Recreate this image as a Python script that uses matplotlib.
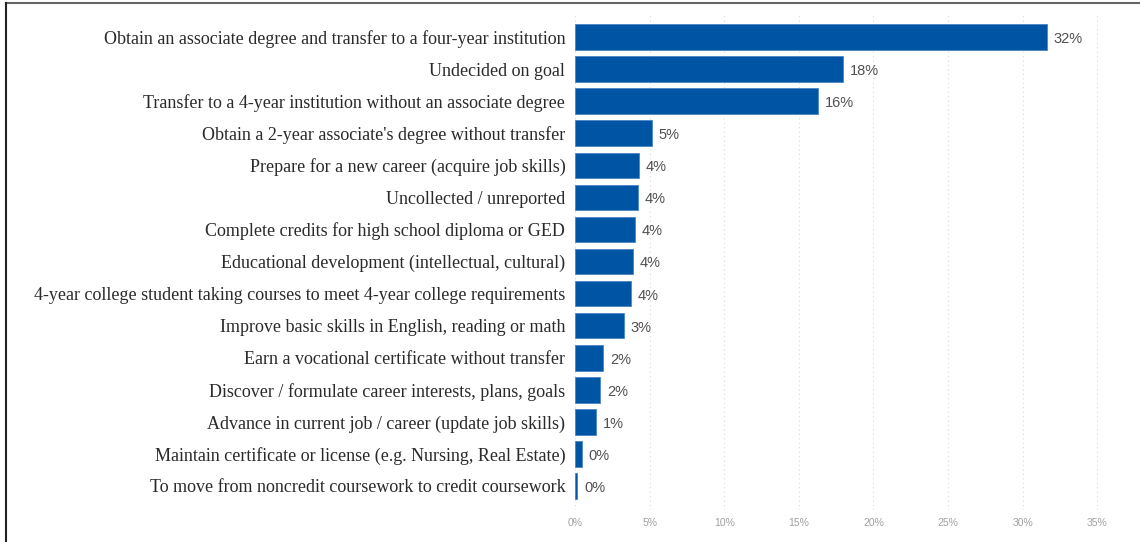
import matplotlib.pyplot as plt
from matplotlib.lines import Line2D
from matplotlib.ticker import FuncFormatter

# Student goals, share of respondents (%)
goals = [
    "Obtain an associate degree and transfer to a four-year institution",
    "Undecided on goal",
    "Transfer to a 4-year institution without an associate degree",
    "Obtain a 2-year associate's degree without transfer",
    "Prepare for a new career (acquire job skills)",
    "Uncollected / unreported",
    "Complete credits for high school diploma or GED",
    "Educational development (intellectual, cultural)",
    "4-year college student taking courses to meet 4-year college requirements",
    "Improve basic skills in English, reading or math",
    "Earn a vocational certificate without transfer",
    "Discover / formulate career interests, plans, goals",
    "Advance in current job / career (update job skills)",
    "Maintain certificate or license (e.g. Nursing, Real Estate)",
    "To move from noncredit coursework to credit coursework",
]
shares = [31.6, 17.97, 16.3, 5.13, 4.29, 4.22, 4.04, 3.9, 3.74, 3.27,
          1.88, 1.68, 1.41, 0.47, 0.15]

bar_color = "#0054a4"

fig = plt.figure(figsize=(11.4, 5.42), dpi=100)
ax = fig.add_axes([0.5044, 0.059, 0.4712, 0.9152])

pos = list(range(len(goals)))
ax.barh(pos, shares, height=0.8, color=bar_color, edgecolor="#4a86c8", linewidth=0.6, zorder=3)

for y, v in zip(pos, shares):
    ax.text(v + 0.45, y + 0.06, f"{v:.0f}%", va="center", ha="left",
            family="Liberation Sans", fontsize=10.5, color="#505050")

ax.set_yticks(pos)
ax.set_yticklabels(goals, family="Liberation Serif", fontsize=13, color="#2a2a2a")
ax.set_ylim(14.75, -0.72)
ax.set_xlim(0, 36)

ax.set_xticks(range(0, 36, 5))
ax.xaxis.set_major_formatter(FuncFormatter(lambda x, _: f"{x:.0f}%"))
for lbl in ax.get_xticklabels():
    lbl.set_family("Liberation Sans")
    lbl.set_fontsize(7.5)
    lbl.set_color("#a0a0a0")

ax.tick_params(axis="both", length=0)
ax.tick_params(axis="y", pad=7)
ax.tick_params(axis="x", pad=6)
ax.grid(axis="x", color="#d8d8d8", linestyle=(0, (1, 3)), linewidth=0.8, zorder=0)
for s in ax.spines.values():
    s.set_visible(False)

# frame lines along the top and left edge
fig.add_artist(Line2D([6 / 1140, 1], [1 - 3 / 542, 1 - 3 / 542], transform=fig.transFigure,
                      color="#666666", linewidth=1.5))
fig.add_artist(Line2D([6 / 1140, 6 / 1140], [0, 1 - 3 / 542], transform=fig.transFigure,
                      color="#222222", linewidth=1.5))

fig.savefig("out.png", dpi=100, facecolor="white")
